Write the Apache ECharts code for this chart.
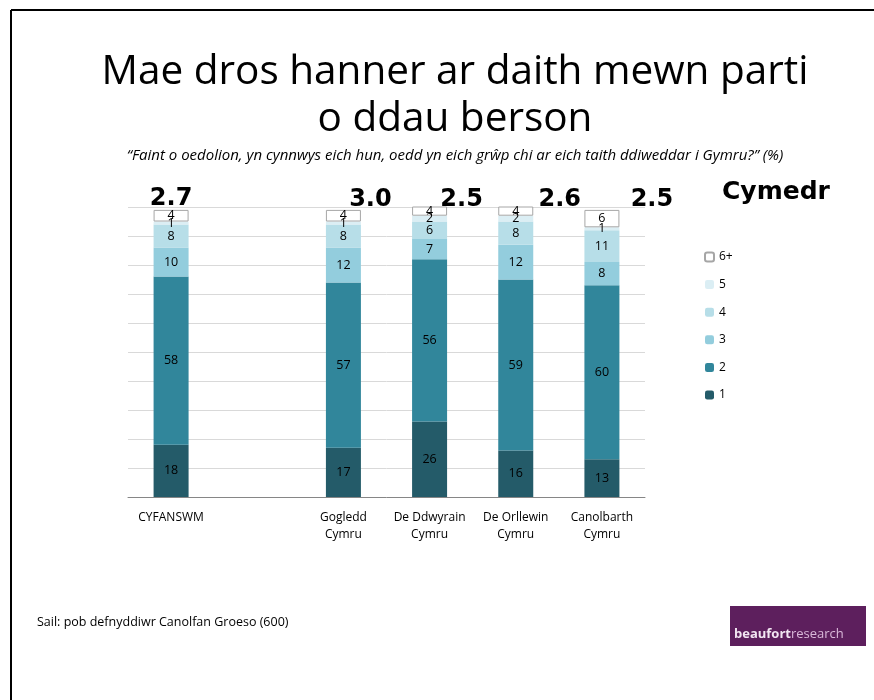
<!DOCTYPE html>
<html>
<head>
<meta charset="utf-8">
<script src="https://cdn.jsdelivr.net/npm/echarts@6/dist/echarts.min.js"></script>
<style>
  html, body { margin: 0; padding: 0; background: #fff; }
  #chart { width: 874px; height: 700px; }
</style>
</head>
<body>
<div id="chart"></div>
<script>
// regions on the x axis (second slot left empty, as in the slide)
let regions = ['CYFANSWM', '', 'Gogledd\nCymru', 'De Ddwyrain\nCymru', 'De Orllewin\nCymru', 'Canolbarth\nCymru'];
let one = [18, '-', 17, 26, 16, 13];
let two = [58, '-', 57, 56, 59, 60];
let three = [10, '-', 12, 7, 12, 8];
let four = [8, '-', 8, 6, 8, 11];
let five = [1, '-', 1, 2, 2, 1];
let sixPlus = [4, '-', 4, 4, 4, 6];
let means = ['2.7', '-', '3.0', '2.5', '2.6', '2.5'];
let meanShift = [0, 0, 27, 32, 44, 50];

let font = '"Open Sans", Lato, sans-serif';
let boldFont = '"DejaVu Sans", sans-serif';
let myChart = echarts.init(document.getElementById('chart'));

function stackSeries(name, data, color, border) {
	return {
		name: name,
		type: 'bar',
		stack: 'all',
		barWidth: 35,
		data: data,
		itemStyle: {
			color: color,
			borderColor: border || color,
			borderWidth: border ? 1 : 0
		},
		label: {
			show: true,
			position: 'inside',
			color: '#000',
			fontFamily: font,
			fontSize: 12.5
		},
		emphasis: { disabled: true }
	};
}

let option = {
	animation: false,
	textStyle: { fontFamily: font },
	title: {
		text: 'Mae dros hanner ar daith mewn parti\no ddau berson',
		subtext: '“Faint o oedolion, yn cynnwys eich hun, oedd yn eich grŵp chi ar eich taith ddiweddar i Gymru?” (%)',
		left: 450,
		top: 44,
		textAlign: 'center',
		itemGap: 5,
		textStyle: {
			fontFamily: font,
			fontSize: 40.5,
			fontWeight: 'normal',
			color: '#000',
			lineHeight: 47
		},
		subtextStyle: {
			fontFamily: font,
			fontSize: 15,
			fontStyle: 'italic',
			color: '#000'
		}
	},
	legend: {
		orient: 'vertical',
		left: 704,
		top: 251,
		padding: 0,
		itemWidth: 9,
		itemHeight: 9,
		itemGap: 15.6,
		data: ['6+', '5', '4', '3', '2', '1'],
		textStyle: { fontFamily: font, fontSize: 12, color: '#000' }
	},
	grid: {
		left: 128,
		right: 229,
		top: 207,
		bottom: 203
	},
	xAxis: {
		type: 'category',
		data: regions,
		axisLine: { lineStyle: { color: '#868686' } },
		axisTick: { length: 5, lineStyle: { color: '#868686' } },
		axisLabel: {
			color: '#000',
			fontFamily: font,
			fontSize: 12,
			lineHeight: 17,
			margin: 12,
			interval: 0
		}
	},
	yAxis: {
		type: 'value',
		min: 0,
		max: 100,
		interval: 10,
		axisLabel: { show: false },
		axisLine: { show: false },
		axisTick: { show: false },
		splitLine: { lineStyle: { color: '#d9d9d9' } }
	},
	series: [
		stackSeries('1', one, '#245b69'),
		stackSeries('2', two, '#31869b'),
		stackSeries('3', three, '#93cddd'),
		stackSeries('4', four, '#b7dee8'),
		stackSeries('5', five, '#dbeef4'),
		stackSeries('6+', sixPlus, '#ffffff', '#a6a6a6'),
		{
			name: 'Cymedr',
			type: 'scatter',
			symbolSize: 0,
			clip: false,
			itemStyle: { opacity: 1 },
			data: means.map(function(m, i) {
				return {
					value: m === '-' ? '-' : 100,
					label: { offset: [meanShift[i], i === 0 ? 0 : 1] }
				};
			}),
			label: {
				show: true,
				position: 'top',
				distance: -4,
				formatter: function(p) { return means[p.dataIndex]; },
				fontFamily: boldFont,
				fontSize: 24,
				fontWeight: 'bold',
				color: '#000'
			},
			emphasis: { disabled: true },
			silent: true
		}
	],
	graphic: [
		{ type: 'line', shape: { x1: 11, y1: 10, x2: 874, y2: 10 }, style: { stroke: '#000', lineWidth: 2 } },
		{ type: 'line', shape: { x1: 11, y1: 10, x2: 11, y2: 700 }, style: { stroke: '#000', lineWidth: 2 } },
		{
			type: 'text', left: 722, top: 180,
			style: { text: 'Cymedr', font: 'bold 25px ' + boldFont, fill: '#000' }
		},
		{
			type: 'text', left: 37, top: 616,
			style: { text: 'Sail: pob defnyddiwr Canolfan Groeso (600)', font: '12.5px ' + font, fill: '#000' }
		},
		{ type: 'rect', shape: { x: 730, y: 606, width: 136, height: 40 }, style: { fill: '#5d1f5d' } },
		{
			type: 'text', left: 734, top: 628,
			style: {
				text: '{a|beaufort}{b|research}',
				rich: {
					a: { font: 'bold 13px ' + font, fill: '#f2e6f2' },
					b: { font: '13px ' + font, fill: '#d9b8d9' }
				}
			}
		}
	]
};

myChart.setOption(option);
</script>
</body>
</html>
